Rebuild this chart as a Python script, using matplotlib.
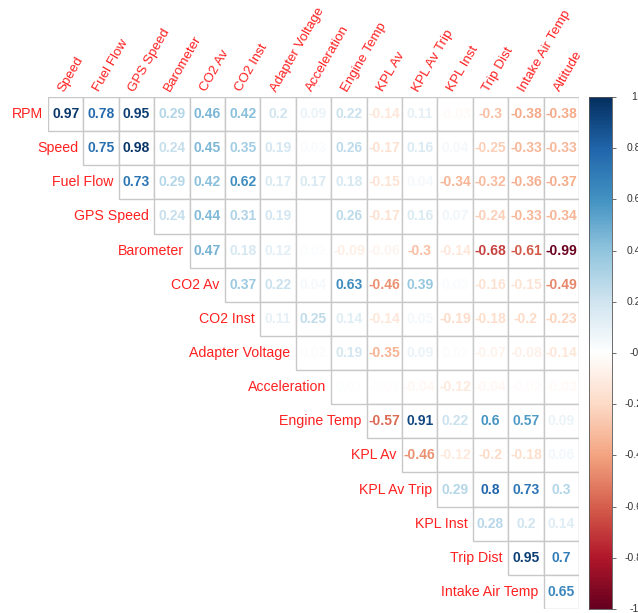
import matplotlib
matplotlib.use("Agg")
import matplotlib.pyplot as plt
import numpy as np
from matplotlib.colors import LinearSegmentedColormap, Normalize
from matplotlib.patches import Rectangle

plt.rcParams['font.family'] = ['Liberation Sans', 'DejaVu Sans']

row_labels = ['RPM', 'Speed', 'Fuel Flow', 'GPS Speed', 'Barometer', 'CO2 Av',
              'CO2 Inst', 'Adapter Voltage', 'Acceleration', 'Engine Temp',
              'KPL Av', 'KPL Av Trip', 'KPL Inst', 'Trip Dist', 'Intake Air Temp']
col_labels = ['Speed', 'Fuel Flow', 'GPS Speed', 'Barometer', 'CO2 Av', 'CO2 Inst',
              'Adapter Voltage', 'Acceleration', 'Engine Temp', 'KPL Av',
              'KPL Av Trip', 'KPL Inst', 'Trip Dist', 'Intake Air Temp', 'Altitude']

# upper triangle, row i starts at column i
corr_rows = [
    [0.97, 0.78, 0.95, 0.29, 0.46, 0.42, 0.2, 0.09, 0.22, -0.14, 0.11, -0.03, -0.3, -0.38, -0.38],
    [0.75, 0.98, 0.24, 0.45, 0.35, 0.19, 0.03, 0.26, -0.17, 0.16, 0.04, -0.25, -0.33, -0.33],
    [0.73, 0.29, 0.42, 0.62, 0.17, 0.17, 0.18, -0.15, 0.04, -0.34, -0.32, -0.36, -0.37],
    [0.24, 0.44, 0.31, 0.19, 0, 0.26, -0.17, 0.16, 0.07, -0.24, -0.33, -0.34],
    [0.47, 0.18, 0.12, 0.02, -0.09, -0.06, -0.3, -0.14, -0.68, -0.61, -0.99],
    [0.37, 0.22, 0.04, 0.63, -0.46, 0.39, 0.03, -0.16, -0.15, -0.49],
    [0.11, 0.25, 0.14, -0.14, 0.05, -0.19, -0.18, -0.2, -0.23],
    [0.02, 0.19, -0.35, 0.09, 0.02, -0.07, -0.08, -0.14],
    [0.01, -0.01, -0.04, -0.12, -0.04, -0.02, -0.03],
    [-0.57, 0.91, 0.22, 0.6, 0.57, 0.09],
    [-0.46, -0.12, -0.2, -0.18, 0.06],
    [0.29, 0.8, 0.73, 0.3],
    [0.28, 0.2, 0.14],
    [0.95, 0.7],
    [0.65],
]

cmap = LinearSegmentedColormap.from_list('RdBu2', [
    '#67001F', '#B2182B', '#D6604D', '#F4A582', '#FDDBC7', '#FFFFFF',
    '#D1E5F0', '#92C5DE', '#4393C3', '#2166AC', '#053061'])
norm = Normalize(-1, 1)

W, H = 638, 613
fig = plt.figure(figsize=(W / 100, H / 100), dpi=100)
ax = fig.add_axes([48 / W, 1 - 609 / H, 531 / W, 512 / H])
ax.set_xlim(0, 15)
ax.set_ylim(15, 0)
ax.axis('off')

for i, vals in enumerate(corr_rows):
    for k, v in enumerate(vals):
        j = i + k
        ax.add_patch(Rectangle((j, i), 1, 1, facecolor='white',
                               edgecolor='#c8c8c8', lw=1.0))
        txt = ('%.2f' % v).rstrip('0').rstrip('.') if v != 0 else '0'
        ax.text(j + 0.5, i + 0.5, txt, ha='center', va='center',
                fontsize=10, fontweight='bold', color=cmap(norm(v)))
    ax.text(i - 0.15, i + 0.5, row_labels[i], ha='right', va='center',
            fontsize=10.2, color='#ff2020')

for j, lab in enumerate(col_labels):
    ax.text(j + 0.45, -0.14, lab, rotation=60, rotation_mode='anchor',
            ha='left', va='baseline', fontsize=9.6, color='#ff2020')

# colour legend on the right
cax = fig.add_axes([589 / W, 1 - 609 / H, 23 / W, 512 / H])
grad = np.linspace(-1, 1, 400).reshape(-1, 1)
cax.imshow(grad, cmap=cmap, norm=norm, aspect='auto', origin='lower',
           extent=(0, 1, -1, 1))
cax.set_xticks([])
cax.yaxis.tick_right()
ticks = np.round(np.arange(-1, 1.01, 0.2), 1)
cax.set_yticks(ticks)
cax.set_yticklabels([])
cax.tick_params(axis='y', length=3, width=0.6, color='#555555')
for s in cax.spines.values():
    s.set_linewidth(0.6)
    s.set_color('#555555')
for t in ticks:
    lab = '%g' % t
    cax.text(1.95, t, lab, ha='center', va='center', fontsize=7.5,
             color='#333333', transform=cax.get_yaxis_transform())

fig.savefig('out.png', dpi=100)
